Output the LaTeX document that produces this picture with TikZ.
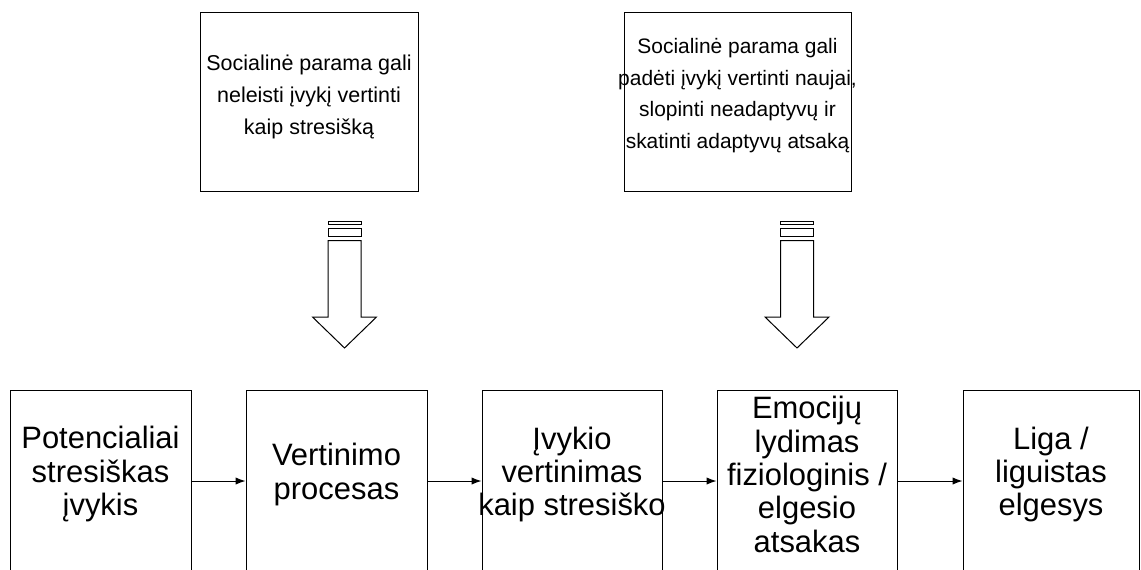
\documentclass[tikz,border=0pt]{standalone}
\usepackage{fontspec}
\setmainfont{Liberation Sans}
\usetikzlibrary{arrows.meta}

\newcommand{\wideline}[1]{\makebox[0pt]{#1}}

\tikzset{
  topbox/.style={draw, line width=0.75pt, inner sep=0pt, minimum height=134.25pt},
  toptext/.style={align=center, inner sep=0pt, font=\fontsize{16.1}{23.8}\selectfont},
  stagebox/.style={draw, line width=0.75pt, inner sep=0pt, minimum height=136.5pt, minimum width=135.75pt},
  stagetext/.style={align=center, inner sep=0pt, font=\fontsize{23.2}{25}\selectfont},
  flow/.style={-{Latex[length=7.5pt,width=5.5pt]}, line width=0.75pt},
  blockarrow/.style={draw, line width=0.75pt, fill=white},
}

\begin{document}
\begin{tikzpicture}[x=0.75pt,y=0.75pt,yscale=-1,xscale=1]
\useasboundingbox (0,0) rectangle (1141,569);

% support boxes
\node[topbox, minimum width=163.5pt] (supA) at (309,101.5) {};
\node[topbox, minimum width=170.25pt] (supB) at (737.5,101.5) {};
\node[toptext] (supAtxt) at ([yshift=-3.4pt]supA.center) {Socialinė parama gali\\neleisti įvykį vertinti\\kaip stresišką};
\node[toptext, font=\fontsize{15.7}{23.8}\selectfont] (supBtxt) at ([yshift=-4.5pt]supB.center) {Socialinė parama gali\\\wideline{padėti įvykį vertinti naujai,}\\slopinti neadaptyvų ir\\\wideline{skatinti adaptyvų atsaką}};

% block arrows
\foreach \cx in {344.5,797}{
  \draw[blockarrow] (\cx-16.5,221) rectangle (\cx+16.5,224.5);
  \draw[blockarrow] (\cx-16.5,228.5) rectangle (\cx+16.5,236.5);
  \draw[blockarrow] (\cx-16.5,240.5) -- (\cx-16.5,317) -- (\cx-32,317) -- (\cx,348) -- (\cx+32,317) -- (\cx+16.5,317) -- (\cx+16.5,240.5) -- cycle;
}

% stages
\node[stagebox] (ev) at (100.5,481) {};
\node[stagebox] (appr) at (336.5,481) {};
\node[stagebox, minimum width=135pt] (judg) at (572,481) {};
\node[stagebox, minimum width=135pt] (emo) at (807,481) {};
\node[stagebox, minimum width=132pt] (ill) at (1051,481) {};

\node[stagetext] (evtxt) at ([yshift=-5pt]ev.center) {Potencialiai\\stresiškas\\įvykis};
\node[stagetext] (apprtxt) at ([yshift=-5pt]appr.center) {Vertinimo\\procesas};
\node[stagetext] (judgtxt) at ([yshift=-5pt]judg.center) {Įvykio\\vertinimas\\\wideline{kaip stresiško}};
\node[stagetext] (emotxt) at ([yshift=-5pt]emo.center) {Emocijų\\lydimas\\fiziologinis /\\elgesio\\atsakas};
\node[stagetext] (illtxt) at ([yshift=-5pt]ill.center) {Liga /\\liguistas\\elgesys};

\draw[flow] (ev) -- (appr);
\draw[flow] (appr) -- (judg);
\draw[flow] (judg) -- (emo);
\draw[flow] (emo) -- (ill);
\end{tikzpicture}
\end{document}
